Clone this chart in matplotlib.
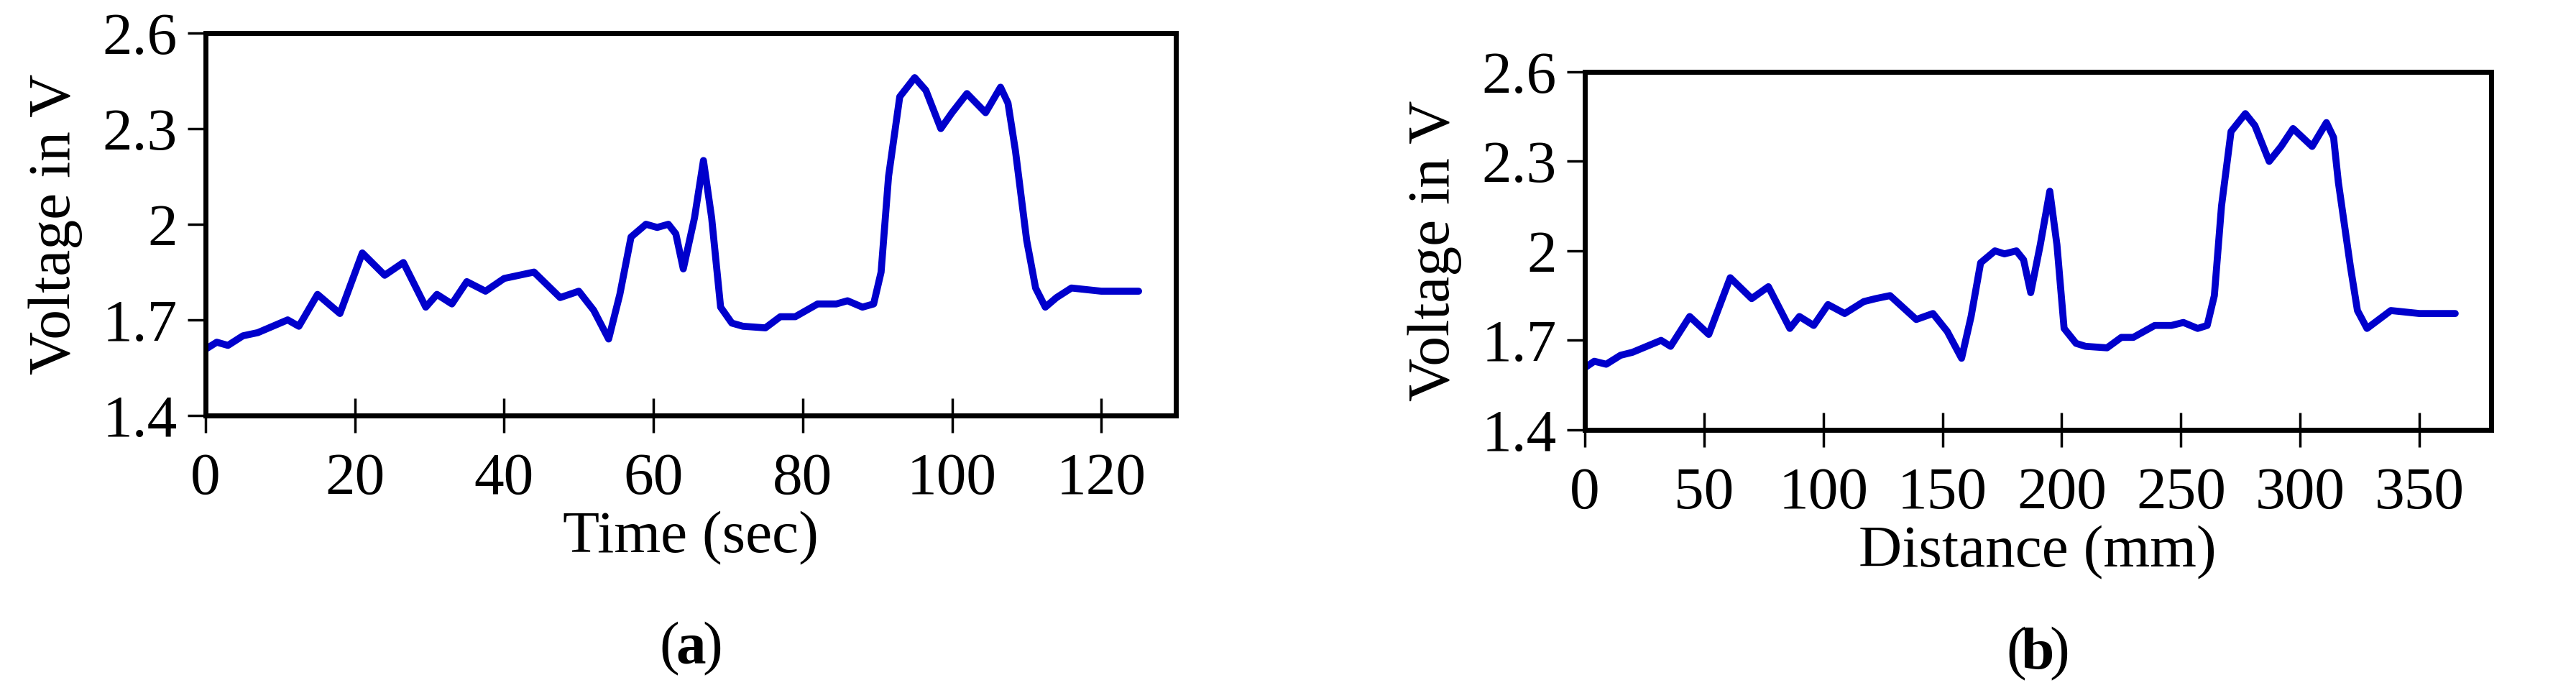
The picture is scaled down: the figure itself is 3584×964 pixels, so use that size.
import matplotlib
matplotlib.use("Agg")
import matplotlib.pyplot as plt

time_s = [0, 1.5, 3, 5, 7, 10, 11, 12.5, 15, 18, 21, 24, 26.5, 29.5, 31, 33, 35, 37.5, 40, 42, 44,
          47.5, 50, 52, 54, 55.5, 57, 59, 60.5, 62, 63, 64, 65.5, 66.7, 67.8, 69, 70.5, 72, 75, 77, 79,
          82, 84.5, 86, 88, 89.5, 90.5, 91.5, 93, 95, 96.5, 98.5, 100, 102, 104.5, 106.5, 107.5,
          108.5, 110, 111.2, 112.5, 114, 116, 120, 125]
volt = [1.608, 1.63, 1.62, 1.65, 1.66, 1.69, 1.70, 1.68, 1.78, 1.72, 1.91, 1.84, 1.88, 1.74, 1.78,
        1.75, 1.82, 1.79, 1.83, 1.84, 1.85, 1.77, 1.79, 1.73, 1.64, 1.78, 1.96, 2.0, 1.99, 2.0, 1.97,
        1.86, 2.02, 2.20, 2.02, 1.74, 1.69, 1.68, 1.675, 1.71, 1.71, 1.75, 1.75, 1.76, 1.74, 1.75,
        1.85, 2.15, 2.40, 2.46, 2.42, 2.30, 2.35, 2.41, 2.35, 2.43, 2.38, 2.23, 1.95, 1.80, 1.74,
        1.77, 1.80, 1.79, 1.79]
dist_mm = [0, 4, 9, 15, 20, 29, 32, 36, 44, 52, 61, 70, 77, 86, 90, 96, 102, 109, 117, 122, 128,
           139, 146, 152, 158, 162, 166, 172, 176, 181, 184, 187, 191, 195, 198, 201, 206, 210, 219,
           225, 230, 239, 246, 251, 257, 261, 264, 267, 271, 277, 281, 287, 292, 297, 305, 311, 314,
           316, 321, 324, 328, 333, 338, 350, 365]

xt_a = [0, 20, 40, 60, 80, 100, 120]
xt_b = [0, 50, 100, 150, 200, 250, 300, 350]
yt = [1.4, 1.7, 2.0, 2.3, 2.6]
ytl = ["1.4", "1.7", "2", "2.3", "2.6"]

plt.rcParams['font.family'] = ['Liberation Serif', 'DejaVu Serif']
fig = plt.figure(figsize=(35.84, 9.64), dpi=100)
ax1 = fig.add_axes([0.0798, 0.4004, 0.3767, 0.552])
ax2 = fig.add_axes([0.6152, 0.3797, 0.3518, 0.5166])

for ax, x, xt, xl, xmax in [(ax1, time_s, xt_a, "Time (sec)", 130),
                            (ax2, dist_mm, xt_b, "Distance (mm)", 380)]:
    ax.plot(x, volt, color="#0000CC", lw=7, solid_joinstyle='round', solid_capstyle='round')
    ax.set_xlim(0, xmax)
    ax.set_ylim(1.4, 2.6)
    ax.set_xticks(xt)
    ax.set_yticks(yt)
    ax.set_yticklabels(ytl)
    ax.tick_params(axis='x', direction='inout', length=34, width=2.5, labelsize=60, pad=20)
    ax.tick_params(axis='y', direction='out', length=18, width=2.5, labelsize=60, pad=10)
    for s in ax.spines.values():
        s.set_linewidth(5)
    ax.set_xlabel(xl, fontsize=60, labelpad=4)
    ax.set_ylabel("Voltage in V", fontsize=60, labelpad=20)

for xc, yc, c in [(0.2681, 1 - 903 / 964, "a"), (0.7911, 1 - 910 / 964, "b")]:
    t1 = fig.text(xc, yc, "(", fontsize=60, ha='right', va='center')
    fig.text(xc, yc, c, fontsize=60, fontweight='bold', ha='center', va='center')
    fig.text(xc + 0.0045, yc, ")", fontsize=60, ha='left', va='center')
fig.texts[0].set_x(0.2681 - 0.0045)
fig.texts[3].set_x(0.7911 - 0.0045)
fig.savefig("out.png", dpi=100)
